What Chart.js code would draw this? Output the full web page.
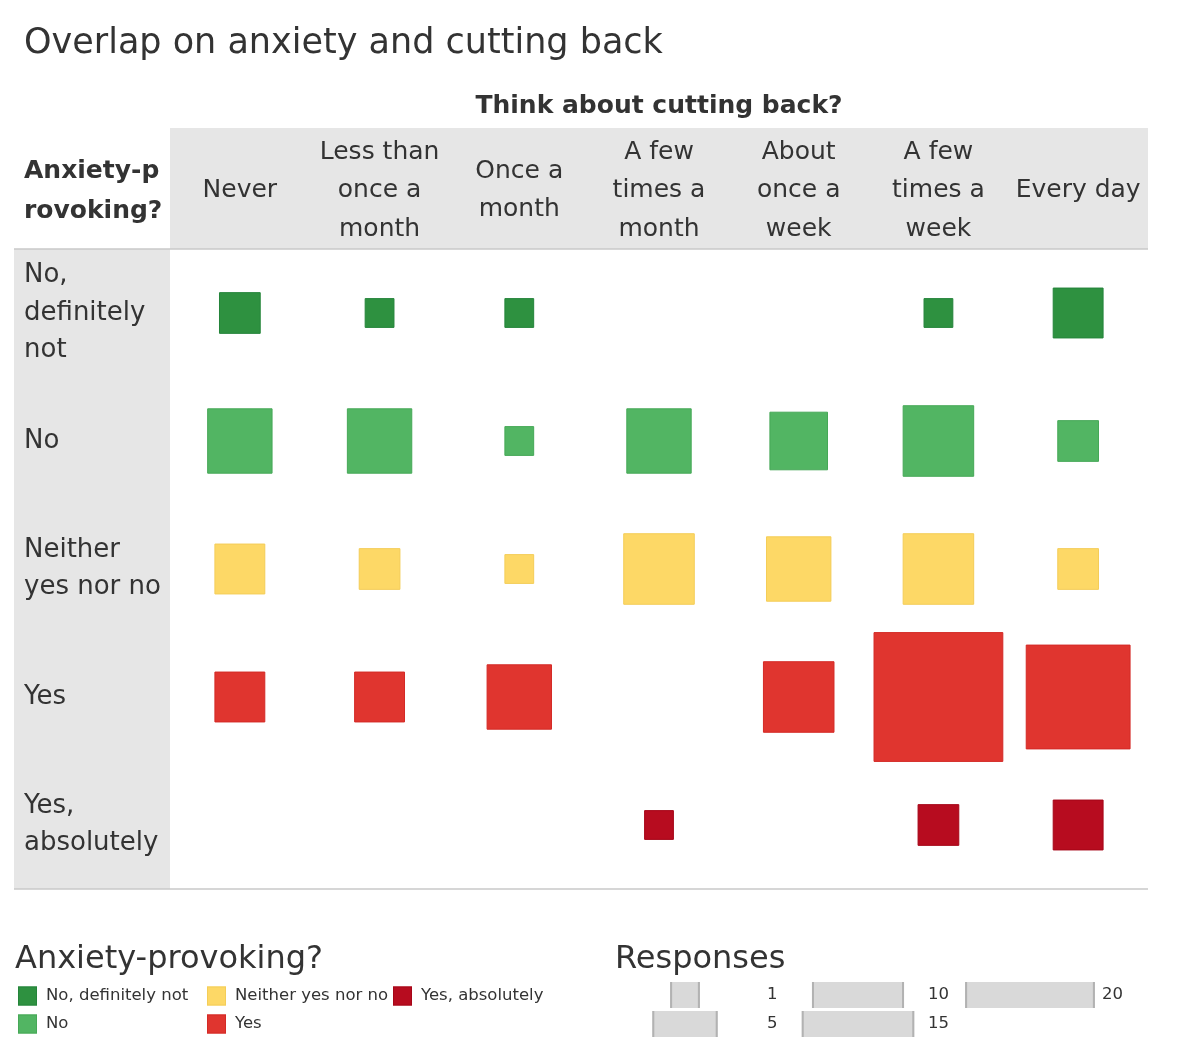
<!DOCTYPE html>
<html>
<head>
<meta charset="utf-8">
<script src="https://cdn.jsdelivr.net/npm/chart.js@4.4.1/dist/chart.umd.min.js"></script>
<style>
  html, body { margin: 0; background: #fff; }
  #wrap { width: 1200px; height: 1063px; position: relative; }
</style>
</head>
<body>
<div id="wrap"><canvas id="overlap"></canvas></div>
<script>
const cutBack = ['Never', 'Less than once a month', 'Once a month', 'A few times a month',
    'About once a week', 'A few times a week', 'Every day'];
const cutBackLines = [['Never'], ['Less than', 'once a', 'month'], ['Once a', 'month'],
    ['A few', 'times a', 'month'], ['About', 'once a', 'week'], ['A few', 'times a', 'week'], ['Every day']];
const anxiety = ['No, definitely not', 'No', 'Neither yes nor no', 'Yes', 'Yes, absolutely'];
const anxietyLines = [['No,', 'definitely', 'not'], ['No'], ['Neither', 'yes nor no'], ['Yes'], ['Yes,', 'absolutely']];
const colors = ['#2e9140', '#52b563', '#fdd866', '#e0352f', '#b70c1f'];
const borders = ['#24843a', '#46a857', '#f4cd58', '#d42a26', '#a60618'];

// responses per cell, in cutBack order (0 = no mark)
const noDefNot = [2, 1, 1, 0, 0, 1, 3];
const no = [5, 5, 1, 5, 4, 6, 2];
const neither = [3, 2, 1, 6, 5, 6, 2];
const yes = [3, 3, 5, 0, 6, 20, 13];
const yesAbs = [0, 0, 0, 1, 0, 2, 3];
const sizeSteps = [1, 5, 10, 15, 20];

const series = [noDefNot, no, neither, yes, yesAbs];
const FONT = '"DejaVu Sans", sans-serif';
const sideFor = v => 28.8 * Math.sqrt(v);

const datasets = series.map((vals, r) => ({
    label: anxiety[r],
    data: vals.map((v, i) => ({ x: cutBack[i], y: anxiety[r], v: v })).filter(p => p.v > 0),
    pointStyle: 'rect',
    pointRadius: ctx => sideFor(ctx.raw.v) / Math.SQRT2,
    backgroundColor: colors[r],
    borderColor: borders[r],
    borderWidth: 1
}));

const frame = {
    id: 'frame',
    beforeDraw(chart) {
        const { ctx, chartArea: a } = chart;
        ctx.save();
        ctx.fillStyle = '#e6e6e6';
        ctx.fillRect(a.left, a.top - 121, a.right - a.left, 121);
        ctx.fillRect(14, a.top, a.left - 14, a.bottom - a.top);
        ctx.strokeStyle = '#c8c8c8';
        ctx.lineWidth = 1.5;
        [a.top, a.bottom].forEach(y => {
            ctx.beginPath();
            ctx.moveTo(14, y);
            ctx.lineTo(a.right, y);
            ctx.stroke();
        });
        ctx.fillStyle = '#333';
        ctx.font = 'bold 25px ' + FONT;
        ctx.textBaseline = 'middle';
        ctx.fillText('Anxiety-p', 24, 171);
        ctx.fillText('rovoking?', 24, 211);
        ctx.restore();
    },
    afterDraw(chart) {
        const ctx = chart.ctx;
        ctx.save();
        ctx.textBaseline = 'middle';
        ctx.fillStyle = '#333';
        ctx.font = '32px ' + FONT;
        ctx.fillText('Anxiety-provoking?', 15, 960);
        ctx.fillText('Responses', 615, 960);

        // colour legend, filled column by column
        ctx.font = '16.5px ' + FONT;
        anxiety.forEach((name, i) => {
            const x = [18, 207, 393][Math.floor(i / 2)];
            const y = [996, 1024][i % 2];
            ctx.fillStyle = colors[i];
            ctx.fillRect(x, y - 9.5, 19, 19);
            ctx.strokeStyle = borders[i];
            ctx.lineWidth = 1;
            ctx.strokeRect(x + 0.5, y - 9, 18, 18);
            ctx.fillStyle = '#333';
            ctx.fillText(name, x + 28, y);
        });

        // size legend
        sizeSteps.forEach((v, i) => {
            const col = Math.floor(i / 2);
            const cx = [685, 858, 1030][col];
            const lx = [767, 928, 1102][col];
            const y = [995, 1024][i % 2];
            const w = sideFor(v) + 1;
            ctx.fillStyle = '#d9d9d9';
            ctx.fillRect(cx - w / 2, y - 13, w, 26);
            ctx.fillStyle = '#b2b2b2';
            ctx.fillRect(cx - w / 2, y - 13, 2, 26);
            ctx.fillRect(cx + w / 2 - 2, y - 13, 2, 26);
            ctx.fillStyle = '#333';
            ctx.fillText(String(v), lx, y);
        });
        ctx.restore();
    }
};

new Chart(document.getElementById('overlap'), {
    type: 'scatter',
    data: { datasets: datasets },
    plugins: [frame],
    options: {
        responsive: true,
        maintainAspectRatio: false,
        devicePixelRatio: 1,
        animation: false,
        events: [],
        clip: false,
        layout: { autoPadding: false, padding: { left: 24, right: 52, top: 0, bottom: 174 } },
        scales: {
            x: {
                type: 'category',
                labels: cutBack,
                position: 'top',
                offset: true,
                grid: { display: false, drawTicks: false },
                border: { display: false },
                afterFit: s => { s.height = 171; s.paddingLeft = 0; s.paddingRight = 0; },
                title: {
                    display: true,
                    text: 'Think about cutting back?',
                    color: '#333',
                    font: { family: FONT, size: 25, weight: 'bold' },
                    padding: { top: 13, bottom: 0 }
                },
                ticks: {
                    color: '#333',
                    font: { family: FONT, size: 25, lineHeight: 1.54 },
                    padding: 20,
                    crossAlign: 'center',
                    maxRotation: 0,
                    autoSkip: false,
                    callback: (v, i) => cutBackLines[i]
                }
            },
            y: {
                type: 'category',
                labels: anxiety,
                offset: true,
                grid: { display: false, drawTicks: false },
                border: { display: false },
                afterFit: s => { s.width = 146; s.paddingTop = 0; s.paddingBottom = 0; },
                ticks: {
                    color: '#333',
                    font: { family: FONT, size: 26, lineHeight: 1.44 },
                    padding: 0,
                    crossAlign: 'far',
                    autoSkip: false,
                    callback: (v, i) => anxietyLines[i]
                }
            }
        },
        plugins: {
            legend: { display: false },
            tooltip: { enabled: false },
            title: {
                display: true,
                text: 'Overlap on anxiety and cutting back',
                align: 'start',
                color: '#333',
                font: { family: FONT, size: 35, weight: 'normal' },
                padding: { top: 23, bottom: 13 }
            }
        }
    }
});
</script>
</body>
</html>
